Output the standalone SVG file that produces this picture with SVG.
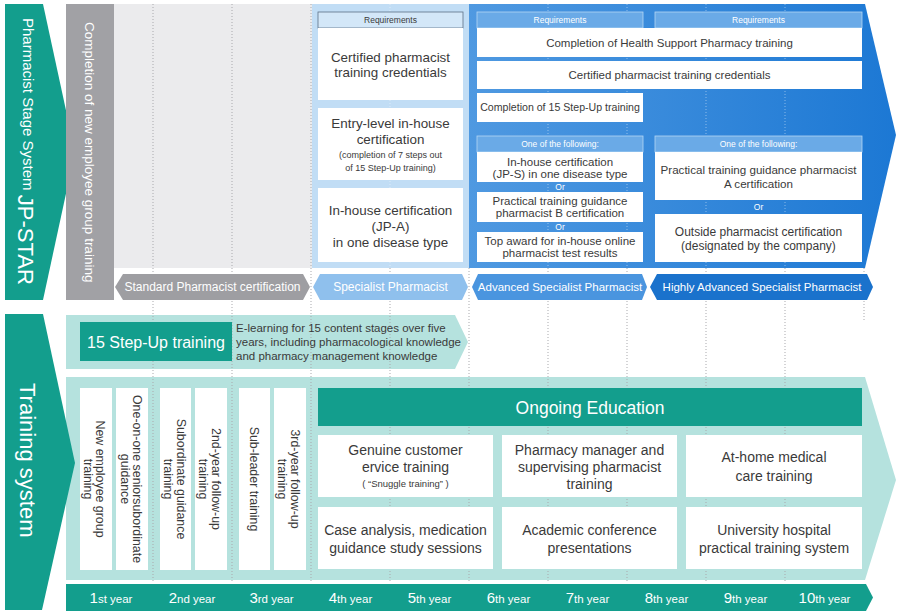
<svg xmlns="http://www.w3.org/2000/svg" width="900" height="615" viewBox="0 0 900 615">
<defs>
<linearGradient id="blueGrad" x1="469" y1="0" x2="897" y2="0" gradientUnits="userSpaceOnUse">
<stop offset="0" stop-color="#4f99e1"/>
<stop offset="1" stop-color="#1c78d4"/>
</linearGradient>
<style>
text{font-family:"Liberation Sans",Arial,sans-serif;}
.dot{stroke:#a9a9ad;stroke-width:1;stroke-dasharray:1 2;fill:none;}
.dotb{stroke:#ffffff;stroke-opacity:0.45;stroke-width:1;stroke-dasharray:1 2;fill:none;}
.wb{fill:#ffffff;}
.t{fill:#3a3a3a;text-anchor:middle;}
.w{fill:#ffffff;}
.wm{fill:#ffffff;text-anchor:middle;}
.teal{fill:#139e8d;}
.lteal{fill:#b5e2de;}
.hdrL{fill:#d3e7f8;stroke:#5d7186;stroke-width:0.8;}
.hdrD{fill:#6aaae7;stroke:#b5d6f4;stroke-width:0.8;}
</style>
</defs>

<!-- backgrounds top -->
<g id="stage-backgrounds">
<rect x="114" y="4" width="198" height="264" fill="#ebebed"/>
<rect x="312" y="4" width="157" height="264" fill="#c1ddf5"/>
<polygon points="469,4 865,4 896,135 865,268 469,268" fill="url(#blueGrad)"/>
</g>

<!-- bottom backgrounds -->
<g id="training-backgrounds">
<polygon class="lteal" points="66,315 455,315 468,342 455,369 66,369"/>
<polygon class="lteal" points="66,377 865,377 896,480 865,580 66,580"/>
</g>

<!-- year column dotted guide lines -->
<g id="guides">
<line class="dot" x1="153" y1="4" x2="153" y2="583"/>
<line class="dot" x1="232" y1="4" x2="232" y2="583"/>
<line class="dot" x1="311" y1="4" x2="311" y2="583"/>
<line class="dot" x1="390" y1="268" x2="390" y2="583"/>
<line class="dot" x1="469" y1="268" x2="469" y2="583"/>
<line class="dot" x1="548" y1="268" x2="548" y2="583"/>
<line class="dot" x1="627" y1="268" x2="627" y2="583"/>
<line class="dot" x1="706" y1="268" x2="706" y2="583"/>
<line class="dot" x1="785" y1="268" x2="785" y2="583"/>
<line class="dot" x1="864" y1="268" x2="864" y2="320"/>
<line class="dotb" x1="390" y1="4" x2="390" y2="268"/>
<line class="dotb" x1="548" y1="4" x2="548" y2="268"/>
<line class="dotb" x1="627" y1="4" x2="627" y2="268"/>
<line class="dotb" x1="706" y1="4" x2="706" y2="268"/>
<line class="dotb" x1="785" y1="4" x2="785" y2="268"/>
</g>

<!-- left chevrons -->
<g id="jp-star-label">
<polygon class="teal" points="5,4 43,4 75,152 43,300 5,300"/>
<text transform="translate(25,18) rotate(90)" class="w"><tspan y="2" font-size="15">Pharmacist Stage System </tspan><tspan y="7" font-size="22">JP-STAR</tspan></text>
</g>
<g id="training-system-label">
<polygon class="teal" points="5,314 43,314 75,463 42,610 5,610"/>
<text transform="translate(25,383) rotate(90)" class="w" y="5" font-size="22">Training system</text>
</g>

<!-- gray column -->
<g id="new-employee-completion">
<rect x="66" y="4" width="48" height="296" fill="#a1a1a5"/>
<text transform="translate(90,22) rotate(90)" class="w" y="5" font-size="13.5">Completion of new employee group training</text>
</g>

<!-- Specialist requirements -->
<g id="specialist-requirements">
<rect class="hdrL" x="318" y="12" width="145" height="16"/>
<text class="t" x="390.5" y="23" font-size="8.5">Requirements</text>
<rect class="wb" x="318" y="28" width="145" height="72"/>
<text class="t" font-size="13.4"><tspan x="390.5" y="61.5">Certified pharmacist</tspan><tspan x="390.5" y="77">training credentials</tspan></text>
<rect class="wb" x="318" y="108" width="145" height="72"/>
<text class="t" font-size="13.4"><tspan x="390.5" y="127.5">Entry-level in-house</tspan><tspan x="390.5" y="143.5">certification</tspan></text>
<text class="t" font-size="9"><tspan x="390.5" y="158">(completion of 7 steps out</tspan><tspan x="390.5" y="170.5">of 15 Step-Up training)</tspan></text>
<rect class="wb" x="318" y="188" width="145" height="74"/>
<text class="t" font-size="13.4"><tspan x="390.5" y="214.5">In-house certification</tspan><tspan x="390.5" y="230.5">(JP-A)</tspan><tspan x="390.5" y="246.5">in one disease type</tspan></text>
</g>

<!-- Advanced requirements -->
<g id="advanced-requirements">
<rect class="hdrD" x="477" y="12" width="166" height="16"/>
<text class="wm" x="560" y="23" font-size="8.5">Requirements</text>
<rect class="hdrD" x="655" y="12" width="207" height="16"/>
<text class="wm" x="758.5" y="23" font-size="8.5">Requirements</text>
<rect class="wb" x="477" y="28" width="385" height="29"/>
<text class="t" x="669.5" y="46.5" font-size="11.5">Completion of Health Support Pharmacy training</text>
<rect class="wb" x="477" y="61" width="385" height="28"/>
<text class="t" x="669.5" y="79" font-size="11.5">Certified pharmacist training credentials</text>
<rect class="wb" x="477" y="93" width="166" height="29"/>
<text class="t" x="560" y="111" font-size="10.6">Completion of 15 Step-Up training</text>

<rect class="hdrD" x="477" y="136" width="166" height="16"/>
<text class="wm" x="560" y="147" font-size="8.5">One of the following:</text>
<rect class="wb" x="477" y="152" width="166" height="30"/>
<text class="t" font-size="11.5"><tspan x="560" y="166">In-house certification</tspan><tspan x="560" y="178">(JP-S) in one disease type</tspan></text>
<text class="wm" x="560" y="190" font-size="8.5">Or</text>
<rect class="wb" x="477" y="192" width="166" height="30"/>
<text class="t" font-size="11.5"><tspan x="560" y="205">Practical training guidance</tspan><tspan x="560" y="217">pharmacist B certification</tspan></text>
<text class="wm" x="560" y="230" font-size="8.5">Or</text>
<rect class="wb" x="477" y="232" width="166" height="30"/>
<text class="t" font-size="11.5"><tspan x="560" y="245">Top award for in-house online</tspan><tspan x="560" y="257">pharmacist test results</tspan></text>
</g>

<!-- Highly advanced requirements -->
<g id="highly-advanced-requirements">
<rect class="hdrD" x="655" y="136" width="207" height="16"/>
<text class="wm" x="758.5" y="147" font-size="8.5">One of the following:</text>
<rect class="wb" x="655" y="152" width="207" height="48"/>
<text class="t" font-size="11.6"><tspan x="758.5" y="174">Practical training guidance pharmacist</tspan><tspan x="758.5" y="188">A certification</tspan></text>
<text class="wm" x="758.5" y="210" font-size="8.5">Or</text>
<rect class="wb" x="655" y="214" width="207" height="48"/>
<text class="t" font-size="12"><tspan x="758.5" y="235.5">Outside pharmacist certification</tspan><tspan x="758.5" y="249.5">(designated by the company)</tspan></text>
</g>

<!-- certification stage arrows -->
<g id="stage-standard">
<polygon points="115,287 123,274 303,274 310,287 303,300 123,300" fill="#9e9ea2"/>
<text class="wm" x="212.5" y="291.3" font-size="12">Standard Pharmacist certification</text>
</g>
<g id="stage-specialist">
<polygon points="313,287 320,274 462,274 468,287 462,300 320,300" fill="#8fc0ed"/>
<text class="wm" x="390.5" y="291.3" font-size="12">Specialist Pharmacist</text>
</g>
<g id="stage-advanced">
<polygon points="472,287 478,274 642,274 647,287 642,300 478,300" fill="#4a95df"/>
<text class="wm" x="560" y="291.3" font-size="11.5">Advanced Specialist Pharmacist</text>
</g>
<g id="stage-highly-advanced">
<polygon points="650,287 657,274 867,274 873,287 867,300 657,300" fill="#1a72cc"/>
<text class="wm" x="762" y="291.3" font-size="11.5">Highly Advanced Specialist Pharmacist</text>
</g>

<!-- Step-Up training -->
<g id="step-up-training">
<rect class="teal" x="80" y="322" width="152" height="39"/>
<text class="wm" x="156" y="347.5" font-size="16">15 Step-Up training</text>
<text fill="#3a3a3a" font-size="11.5"><tspan x="236" y="332">E-learning for 15 content stages over five</tspan><tspan x="236" y="346">years, including pharmacological knowledge</tspan><tspan x="236" y="359.5">and pharmacy management knowledge</tspan></text>
</g>

<!-- early-year vertical trainings -->
<g id="new-employee-group-training">
<rect class="wb" x="80" y="388" width="32" height="182"/>
<text class="t" font-size="12.4" transform="translate(100,479) rotate(90)" y="4.3">New employee group</text>
<text class="t" font-size="12.4" transform="translate(88,479) rotate(90)" y="4.3">training</text>
</g>
<g id="senior-subordinate-guidance">
<rect class="wb" x="116" y="388" width="32" height="182"/>
<text class="t" font-size="12.4" transform="translate(137,479) rotate(90)" y="4.3">One-on-one seniorsubordinate</text>
<text class="t" font-size="12.4" transform="translate(125,479) rotate(90)" y="4.3">guidance</text>
</g>
<g id="subordinate-guidance-training">
<rect class="wb" x="160" y="388" width="31" height="182"/>
<text class="t" font-size="12.4" transform="translate(181,479) rotate(90)" y="4.3">Subordinate guidance</text>
<text class="t" font-size="12.4" transform="translate(168.5,479) rotate(90)" y="4.3">training</text>
</g>
<g id="second-year-follow-up">
<rect class="wb" x="195" y="388" width="32" height="182"/>
<text class="t" font-size="12.4" transform="translate(216,479) rotate(90)" y="4.3">2nd-year follow-up</text>
<text class="t" font-size="12.4" transform="translate(203.5,479) rotate(90)" y="4.3">training</text>
</g>
<g id="sub-leader-training">
<rect class="wb" x="239" y="388" width="31" height="182"/>
<text class="t" font-size="12.4" transform="translate(254.5,479) rotate(90)" y="4.3">Sub-leader training</text>
</g>
<g id="third-year-follow-up">
<rect class="wb" x="274" y="388" width="32" height="182"/>
<text class="t" font-size="12.4" transform="translate(295,479) rotate(90)" y="4.3">3rd-year follow-up</text>
<text class="t" font-size="12.4" transform="translate(282.5,479) rotate(90)" y="4.3">training</text>
</g>

<!-- Ongoing education -->
<g id="ongoing-education">
<rect class="teal" x="318" y="388" width="544" height="38"/>
<text class="wm" x="590" y="413.5" font-size="17.5">Ongoing Education</text>
</g>
<g id="customer-service-training">
<rect class="wb" x="318" y="435" width="175" height="62"/>
<text class="t" font-size="14"><tspan x="405.5" y="455">Genuine customer</tspan><tspan x="405.5" y="472">ervice training</tspan></text>
<text class="t" x="405.5" y="487" font-size="9.5">( “Snuggle training” )</text>
</g>
<g id="pharmacy-manager-training">
<rect class="wb" x="502" y="435" width="175" height="62"/>
<text class="t" font-size="14"><tspan x="589.5" y="455">Pharmacy manager and</tspan><tspan x="589.5" y="472">supervising pharmacist</tspan><tspan x="589.5" y="489">training</tspan></text>
</g>
<g id="at-home-care-training">
<rect class="wb" x="686" y="435" width="176" height="62"/>
<text class="t" font-size="14"><tspan x="774" y="462">At-home medical</tspan><tspan x="774" y="481">care training</tspan></text>
</g>
<g id="case-analysis">
<rect class="wb" x="318" y="507" width="175" height="62"/>
<text class="t" font-size="14"><tspan x="405.5" y="535">Case analysis, medication</tspan><tspan x="405.5" y="553">guidance study sessions</tspan></text>
</g>
<g id="academic-conference">
<rect class="wb" x="502" y="507" width="175" height="62"/>
<text class="t" font-size="14"><tspan x="589.5" y="535">Academic conference</tspan><tspan x="589.5" y="553">presentations</tspan></text>
</g>
<g id="university-hospital">
<rect class="wb" x="686" y="507" width="176" height="62"/>
<text class="t" font-size="14"><tspan x="774" y="535">University hospital</tspan><tspan x="774" y="553">practical training system</tspan></text>
</g>

<!-- year bar -->
<g id="year-bar">
<polygon class="teal" points="66,584 866,584 873,597.5 866,611 66,611"/>
<g class="wm" font-size="11.5">
<text class="wm" x="111" y="602.5"><tspan font-size="15">1</tspan>st year</text>
<text class="wm" x="192" y="602.5"><tspan font-size="15">2</tspan>nd year</text>
<text class="wm" x="271.5" y="602.5"><tspan font-size="15">3</tspan>rd year</text>
<text class="wm" x="350.5" y="602.5"><tspan font-size="15">4</tspan>th year</text>
<text class="wm" x="429.5" y="602.5"><tspan font-size="15">5</tspan>th year</text>
<text class="wm" x="508.5" y="602.5"><tspan font-size="15">6</tspan>th year</text>
<text class="wm" x="587.5" y="602.5"><tspan font-size="15">7</tspan>th year</text>
<text class="wm" x="666.5" y="602.5"><tspan font-size="15">8</tspan>th year</text>
<text class="wm" x="745.5" y="602.5"><tspan font-size="15">9</tspan>th year</text>
<text class="wm" x="824.5" y="602.5"><tspan font-size="15">10</tspan>th year</text>
</g>
</g>
</svg>
